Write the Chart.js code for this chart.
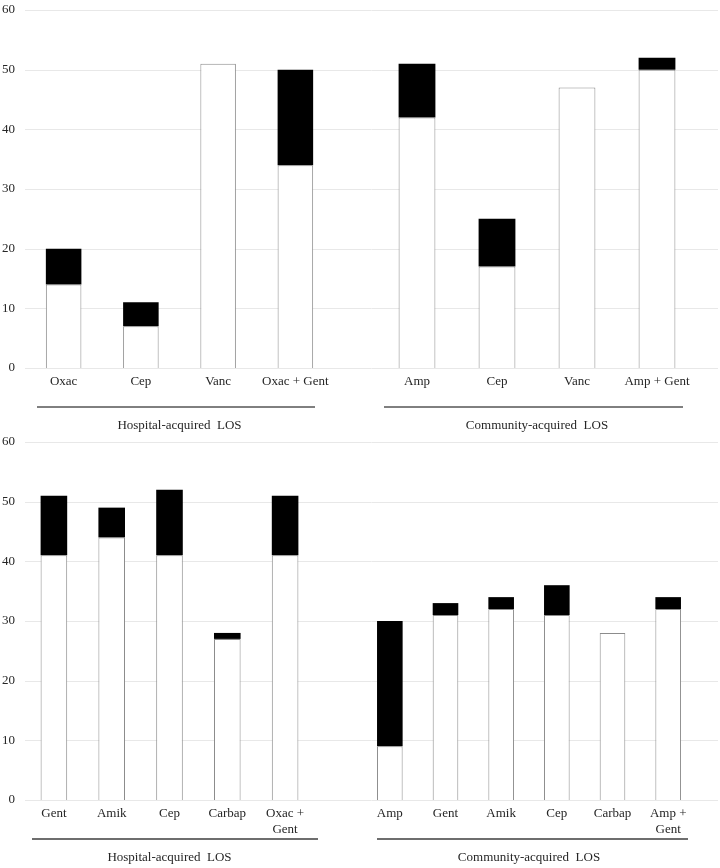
<!DOCTYPE html>
<html>
<head>
<meta charset="utf-8">
<script src="https://cdn.jsdelivr.net/npm/chart.js@4.4.0/dist/chart.umd.min.js"></script>
<style>
  html, body { margin: 0; padding: 0; background: #fff; }
  #wrap { position: relative; width: 720px; height: 868px; overflow: hidden; }
  #wrap canvas { position: absolute; left: 0; }
</style>
</head>
<body>
<div id="wrap">
  <canvas id="topHosp" width="720" height="436" style="top:0"></canvas>
  <canvas id="topComm" width="720" height="436" style="top:0"></canvas>
  <canvas id="botHosp" width="720" height="436" style="top:432px"></canvas>
  <canvas id="botComm" width="720" height="436" style="top:432px"></canvas>
</div>
<script>
// y axis
const yTicks = [0, 10, 20, 30, 40, 50, 60];

// top row
const topHospLabels = ["Oxac", "Cep", "Vanc", "Oxac + Gent"];
const topHospLower = [14, 7, 51, 34];
const topHospUpper = [6, 4, 0, 16];

const topCommLabels = ["Amp", "Cep", "Vanc", "Amp + Gent"];
const topCommLower = [42, 17, 47, 50];
const topCommUpper = [9, 8, 0, 2];

// bottom row
const botHospLabels = ["Gent", "Amik", "Cep", "Carbap", ["Oxac +", "Gent"]];
const botHospLower = [41, 44, 41, 27, 41];
const botHospUpper = [10, 5, 11, 1, 10];

const botCommLabels = ["Amp", "Gent", "Amik", "Cep", "Carbap", ["Amp +", "Gent"]];
const botCommLower = [9, 31, 32, 31, 28, 32];
const botCommUpper = [21, 2, 2, 5, 0, 2];

const groupTitles = ["Hospital-acquired  LOS", "Community-acquired  LOS"];

const FONT = "'Liberation Serif', 'Times New Roman', serif";
const TEXT = "#262626";
const GRID = "#e8e8e8";

// horizontal grid across the whole row, drawn from the y scale of the left chart
const rowGrid = {
  id: "rowGrid",
  beforeDatasetsDraw(chart, args, opts) {
    if (!opts || !opts.on) return;
    const ys = chart.scales.y;
    const ctx = chart.ctx;
    ctx.save();
    ctx.strokeStyle = GRID;
    ctx.lineWidth = 1;
    yTicks.forEach(v => {
      const py = Math.round(ys.getPixelForValue(v)) + 0.5;
      ctx.beginPath();
      ctx.moveTo(chart.chartArea.left, py);
      ctx.lineTo(chart.width - 2, py);
      ctx.stroke();
    });
    ctx.restore();
  }
};

// line under the category labels
const bracket = {
  id: "bracket",
  afterDraw(chart, args, opts) {
    if (!opts || opts.drop == null) return;
    const a = chart.chartArea;
    const ctx = chart.ctx;
    const y = a.bottom + opts.drop;
    ctx.save();
    ctx.strokeStyle = opts.color;
    ctx.lineWidth = opts.width;
    ctx.beginPath();
    ctx.moveTo(a.left + opts.inset[0], y);
    ctx.lineTo(a.right - opts.inset[1], y);
    ctx.stroke();
    ctx.restore();
  }
};

function makeChart(id, labels, lower, upper, title, opt) {
  const ctx = document.getElementById(id).getContext("2d");
  return new Chart(ctx, {
    type: "bar",
    data: {
      labels: labels,
      datasets: [
        {
          label: "Series 1",
          data: lower,
          backgroundColor: "#ffffff",
          borderColor: "#8c8c8c",
          borderWidth: 1,
          stack: "s"
        },
        {
          label: "Series 2",
          data: upper,
          backgroundColor: "#000000",
          borderColor: "#000000",
          borderWidth: 0,
          stack: "s"
        }
      ]
    },
    options: {
      responsive: false,
      devicePixelRatio: 1,
      animation: false,
      layout: { padding: opt.padding },
      datasets: { bar: { categoryPercentage: 1, barPercentage: 0.46 } },
      plugins: {
        legend: { display: false },
        tooltip: { enabled: false },
        rowGrid: { on: opt.showAxis },
        bracket: opt.bracket
      },
      scales: {
        x: {
          stacked: true,
          grid: { display: false, drawTicks: false },
          border: { display: false },
          ticks: {
            color: TEXT,
            font: { family: FONT, size: 13 },
            padding: 6,
            maxRotation: 0,
            autoSkip: false
          },
          title: {
            display: true,
            text: title,
            color: TEXT,
            font: { family: FONT, size: 13 },
            padding: { top: 0, bottom: 3 }
          },
          afterFit: s => { s.height = 68; }
        },
        y: {
          display: opt.showAxis,
          stacked: true,
          min: 0,
          max: 60,
          grid: { display: false, drawTicks: false },
          border: { display: false },
          ticks: {
            stepSize: 10,
            color: TEXT,
            font: { family: FONT, size: 13 },
            padding: 10
          },
          afterFit: s => {
            s.width = opt.showAxis ? 25 : 0;
            s.paddingTop = 0;
            s.paddingBottom = 0;
          }
        }
      }
    },
    plugins: [rowGrid, bracket]
  });
}

makeChart("topHosp", topHospLabels, topHospLower, topHospUpper, groupTitles[0], {
  showAxis: true,
  padding: { top: 10, bottom: 0, left: 0, right: 386 },
  bracket: { drop: 39, inset: [12, 19], color: "#000000", width: 1 }
});
makeChart("topComm", topCommLabels, topCommLower, topCommUpper, groupTitles[1], {
  showAxis: false,
  padding: { top: 10, bottom: 0, left: 377, right: 23 },
  bracket: { drop: 39, inset: [7, 14], color: "#000000", width: 1 }
});
makeChart("botHosp", botHospLabels, botHospLower, botHospUpper, groupTitles[0], {
  showAxis: true,
  padding: { top: 10, bottom: 0, left: 0, right: 406 },
  bracket: { drop: 39, inset: [7, -4], color: "#6e6e6e", width: 2 }
});
makeChart("botComm", botCommLabels, botCommLower, botCommUpper, groupTitles[1], {
  showAxis: false,
  padding: { top: 10, bottom: 0, left: 362, right: 24 },
  bracket: { drop: 39, inset: [15, 8], color: "#6e6e6e", width: 2 }
});
</script>
</body>
</html>
